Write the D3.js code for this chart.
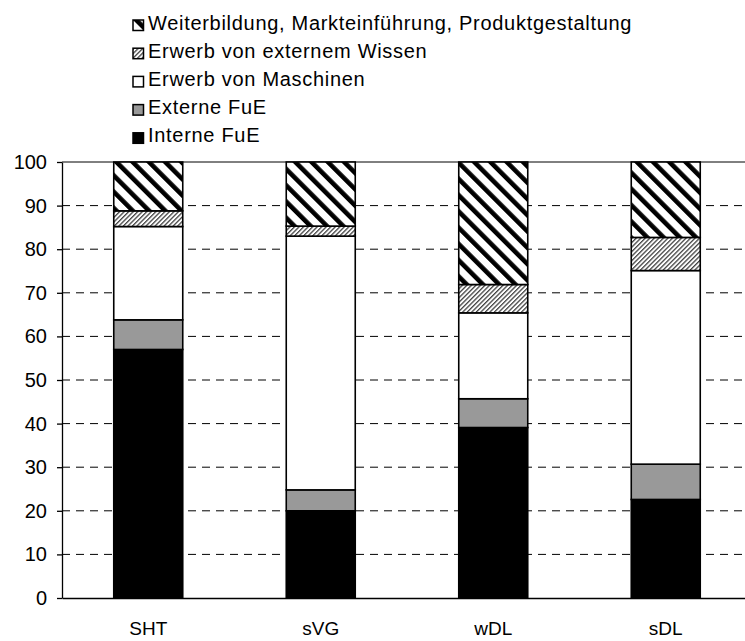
<!DOCTYPE html>
<html>
<head>
<meta charset="utf-8">
<script src="https://cdn.jsdelivr.net/npm/d3@7"></script>
<style>
  html, body { margin: 0; padding: 0; background: #fff; }
  svg { display: block; font-family: "Liberation Sans", Arial, sans-serif; }
</style>
</head>
<body>
<svg id="chart" width="745" height="641"></svg>
<script>
// ---- Data ----
const categories = ["SHT", "sVG", "wDL", "sDL"];
const seriesNames = [
  "Interne FuE",
  "Externe FuE",
  "Erwerb von Maschinen",
  "Erwerb von externem Wissen",
  "Weiterbildung, Markteinführung, Produktgestaltung"
];
const interneFuE    = [57.0, 20.0, 39.1, 22.6];
const externeFuE    = [6.8, 4.8, 6.6, 8.1];
const maschinen     = [21.4, 58.2, 19.7, 44.4];
const wissen        = [3.6, 2.3, 6.5, 7.6];
const weiterbildung = [11.2, 14.7, 28.1, 17.3];
const yTicks = [0, 10, 20, 30, 40, 50, 60, 70, 80, 90, 100];

const seriesValues = [interneFuE, externeFuE, maschinen, wissen, weiterbildung];
const rows = categories.map((c, i) => {
  const r = { cat: c };
  seriesNames.forEach((s, k) => r[s] = seriesValues[k][i]);
  return r;
});

// ---- Setup ----
const svg = d3.select("#chart");
const mLeft = 62, mRight = 752, mTop = 162, mBottom = 598;

const defs = svg.append("defs");
// thick "\" stripes
const p1 = defs.append("pattern").attr("id", "patWeiter")
  .attr("patternUnits", "userSpaceOnUse").attr("width", 11.5).attr("height", 11.5)
  .attr("patternTransform", "rotate(-45)");
p1.append("rect").attr("width", 11.5).attr("height", 11.5).attr("fill", "#fff");
p1.append("rect").attr("x", 0).attr("width", 4.6).attr("height", 11.5).attr("fill", "#000");
// thin "/" hatching
const p2 = defs.append("pattern").attr("id", "patWissen")
  .attr("patternUnits", "userSpaceOnUse").attr("width", 3.2).attr("height", 3.2)
  .attr("patternTransform", "rotate(45)");
p2.append("rect").attr("width", 3.2).attr("height", 3.2).attr("fill", "#fff");
p2.append("rect").attr("x", 0).attr("width", 1.3).attr("height", 3.2).attr("fill", "#444");

const fills = ["#000", "#999", "#fff", "url(#patWissen)", "url(#patWeiter)"];

const x = d3.scaleBand().domain(categories).range([mLeft, mRight])
  .paddingInner(0.6).paddingOuter(0.3);
const y = d3.scaleLinear().domain([0, 100]).range([mBottom, mTop]);

// ---- Grid ----
svg.append("g").selectAll("line").data(yTicks.filter(t => t > 0)).join("line")
  .attr("x1", mLeft).attr("x2", 745)
  .attr("y1", d => y(d)).attr("y2", d => y(d))
  .attr("stroke", "#000").attr("stroke-width", 1)
  .attr("stroke-dasharray", d => d === 100 ? null : "8,6");

// ---- Bars ----
const stack = d3.stack().keys(seriesNames);
const stacked = stack(rows);
svg.append("g").selectAll("g").data(stacked).join("g")
  .attr("fill", (d, i) => fills[i])
  .selectAll("rect").data(d => d).join("rect")
  .attr("x", d => x(d.data.cat))
  .attr("width", x.bandwidth())
  .attr("y", d => y(d[1]))
  .attr("height", d => y(d[0]) - y(d[1]))
  .attr("stroke", "#000").attr("stroke-width", 1.6);

// ---- Axes ----
const yAxis = svg.append("g").attr("transform", `translate(${mLeft},0)`)
  .call(d3.axisLeft(y).tickValues(yTicks).tickSize(5).tickPadding(10).tickSizeOuter(0));
yAxis.selectAll("text").attr("font-size", 20).attr("fill", "#000")
  .attr("font-family", "Liberation Sans, Arial, sans-serif");
yAxis.selectAll("line, path").attr("stroke", "#000").attr("stroke-width", 1.3);

const xAxis = svg.append("g").attr("transform", `translate(0,${mBottom})`)
  .call(d3.axisBottom(x).tickSize(0).tickPadding(24).tickSizeOuter(0));
xAxis.select(".domain").attr("stroke", "#000").attr("stroke-width", 1.3);
xAxis.selectAll("text").attr("font-size", 19).attr("fill", "#000")
  .attr("font-family", "Liberation Sans, Arial, sans-serif");

// ---- Legend (reverse order, top = Weiterbildung) ----
const legendOrder = seriesNames.map((s, i) => ({ name: s, fill: fills[i] })).reverse();
const lg = svg.append("g");
const item = lg.selectAll("g").data(legendOrder).join("g")
  .attr("transform", (d, i) => `translate(133, ${20 + i * 28.2})`);
item.append("rect").attr("width", 10.5).attr("height", 10.5)
  .attr("fill", d => d.fill).attr("stroke", "#000").attr("stroke-width", 1.5);
item.append("text").attr("x", 15).attr("y", 9.5)
  .attr("font-size", 20).attr("letter-spacing", 0.7).attr("fill", "#000")
  .text(d => d.name);
</script>
</body>
</html>
